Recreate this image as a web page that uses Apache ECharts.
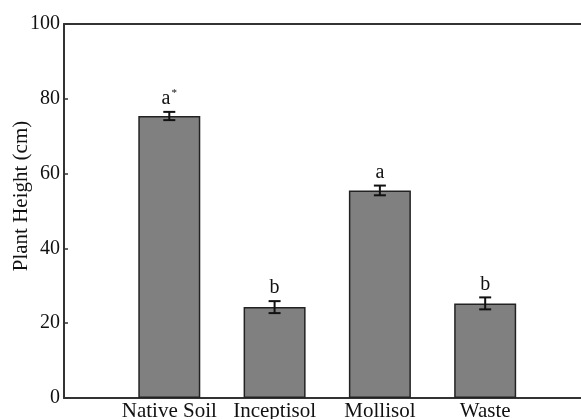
<!DOCTYPE html>
<html><head><meta charset="utf-8">
<script src="https://cdn.jsdelivr.net/npm/echarts@6/dist/echarts.min.js"></script>
<style>html,body{margin:0;padding:0;background:#fff}#c{width:581px;height:419px}</style>
</head><body><div id="c"></div>
<script>
var categories = ['Native Soil', 'Inceptisol', 'Mollisol', 'Waste'];
var heights = [75.4, 24.3, 55.5, 25.3];
var errors = [1.1, 1.6, 1.3, 1.6];
var letters = ['a', 'b', 'a', 'b'];
var marks = ['*', '', '', ''];
var yTicks = [0, 20, 40, 60, 80, 100];

var font = 'Liberation Serif';
var chart = echarts.init(document.getElementById('c'), null, {renderer: 'canvas'});
var barData = heights.map(function (v, i) { return [i + 1, v]; });
var errData = heights.map(function (v, i) { return [i + 1, v - errors[i], v + errors[i], i]; });

chart.setOption({
  animation: false,
  grid: {left: 64, right: 0, top: 24, bottom: 21, outerBoundsMode: 'none', containLabel: false},
  xAxis: [{
    type: 'value', min: 0, max: 4.91, interval: 1,
    axisLine: {show: true, onZero: false, lineStyle: {color: '#333', width: 2}},
    axisTick: {show: false},
    splitLine: {show: false},
    axisLabel: {
      margin: 3, color: '#111', fontFamily: font, fontSize: 21,
      showMinLabel: true, showMaxLabel: false,
      formatter: function (v) { var i = Math.round(v) - 1; return (i >= 0 && i < categories.length && Math.abs(v - i - 1) < 1e-6) ? categories[i] : ''; }
    }
  }, {
    type: 'value', min: 0, max: 4.91, position: 'top',
    axisLine: {show: true, onZero: false, lineStyle: {color: '#333', width: 2}},
    axisTick: {show: false}, axisLabel: {show: false}, splitLine: {show: false}
  }],
  yAxis: {
    type: 'value', min: yTicks[0], max: yTicks[yTicks.length - 1], interval: 20,
    name: 'Plant Height (cm)', nameLocation: 'middle', nameGap: 32, nameMoveOverlap: false,
    nameTextStyle: {fontFamily: font, fontSize: 21, color: '#111', padding: [0, 0, 0, 30]},
    axisLine: {show: true, lineStyle: {color: '#333', width: 2}},
    axisTick: {show: true, inside: true, length: 4, lineStyle: {color: '#333', width: 1.5}},
    splitLine: {show: false},
    axisLabel: {margin: 4, color: '#111', fontFamily: font, fontSize: 20}
  },
  series: [{
    type: 'bar', data: barData, barWidth: 62, z: 2,
    itemStyle: {color: '#808080', borderColor: '#222', borderWidth: 1.5}
  }, {
    type: 'custom', data: errData, z: 5,
    renderItem: function (params, api) {
      var x = api.value(0), lo = api.value(1), hi = api.value(2), idx = api.value(3);
      var p1 = api.coord([x, lo]), p2 = api.coord([x, hi]);
      var cap = 6;
      var st = {stroke: '#111', lineWidth: 2};
      return {type: 'group', children: [
        {type: 'line', shape: {x1: p1[0], y1: p1[1], x2: p2[0], y2: p2[1]}, style: st},
        {type: 'line', shape: {x1: p1[0] - cap, y1: p1[1], x2: p1[0] + cap, y2: p1[1]}, style: st},
        {type: 'line', shape: {x1: p2[0] - cap, y1: p2[1], x2: p2[0] + cap, y2: p2[1]}, style: st},
        {type: 'text', x: p2[0], y: p2[1] - 3, style: {
          text: '{l|' + letters[idx] + '}' + (marks[idx] ? '{s|' + marks[idx] + '}' : ''),
          rich: {l: {fontFamily: font, fontSize: 20, fill: '#111'}, s: {fontFamily: font, fontSize: 11, fill: '#111', verticalAlign: 'top', padding: [0, 0, 10, 1]}},
          align: 'center', verticalAlign: 'bottom'
        }}
      ]};
    }
  }]
});
</script></body></html>
